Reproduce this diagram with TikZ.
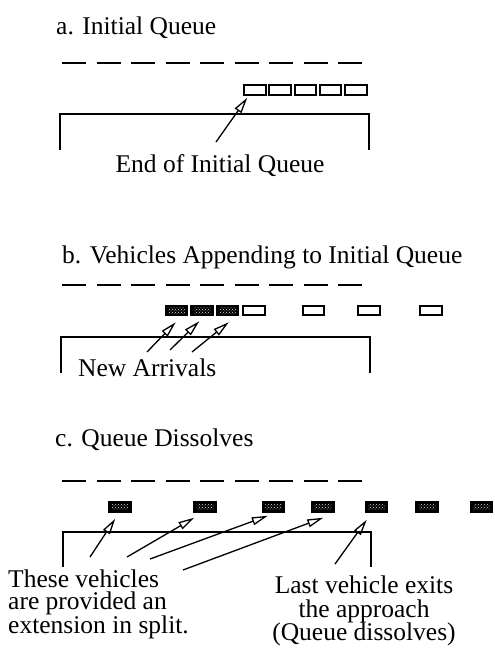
\documentclass[tikz,border=0pt]{standalone}
\usepackage{fontspec}
\setmainfont{Liberation Serif}
\usetikzlibrary{arrows.meta,patterns}
\begin{document}
\begin{tikzpicture}[x=1pt,y=-1pt,
  lbl/.style={inner sep=0pt, font=\fontsize{25.5}{30}\selectfont},
  lane/.style={line width=1.6pt, dash pattern=on 24pt off 10.5pt},
  curb/.style={line width=2.2pt},
  veh/.style={draw, line width=2pt, minimum width=21.5pt, minimum height=9.5pt, inner sep=0pt},
  vehf/.style={veh, fill=black, path picture={\fill[pattern=crosshatch dots, pattern color=white!70!gray]
      ([shift={(2.5pt,-2pt)}]path picture bounding box.north west) rectangle
      ([shift={(-2.5pt,2pt)}]path picture bounding box.south east);}},
  arr/.style={line width=1.3pt, -{Triangle[open,length=16pt,width=8pt,line width=1.3pt]}}]
\useasboundingbox (0,0) rectangle (495,653);

% ---------- a ----------
\node[lbl, anchor=base west] (ta) at (56,34) {a. Initial Queue};
\draw[lane] (62,63) -- (362,63);
\foreach \i/\x in {1/255,2/280.2,3/305.4,4/330.6,5/355.8}
  \node[veh] (a\i) at (\x,90) {};
\draw[curb] (60,150) -- (60,114) -- (369,114) -- (369,150);
\node[lbl, anchor=base] (ea) at (220,172) {End of Initial Queue};
\coordinate (sa) at (216,142);
\draw[arr] (sa) -- ([xshift=4pt,yshift=-2pt]a1.south west);

% ---------- b ----------
\node[lbl, anchor=base west] (tb) at (62,263) {b. Vehicles Appending to Initial Queue};
\draw[lane] (62,285) -- (362,285);
\foreach \i/\x in {1/176.5,2/202,3/227.5}
  \node[vehf] (b\i) at (\x,310.5) {};
\foreach \i/\x in {4/254,5/313.5,6/369,7/431}
  \node[veh] (b\i) at (\x,310.5) {};
\draw[curb] (61,373) -- (61,337) -- (370,337) -- (370,373);
\node[lbl, anchor=base west] (na) at (78,376) {New Arrivals};
\coordinate (sb1) at (147,352);
\coordinate (sb2) at (170,350);
\coordinate (sb3) at (192,352);
\draw[arr] (sb1) -- ([xshift=11pt,yshift=-6pt]b1.south west);
\draw[arr] (sb2) -- ([xshift=9pt,yshift=-5pt]b2.south west);
\draw[arr] (sb3) -- ([xshift=13pt,yshift=-6pt]b3.south west);

% ---------- c ----------
\node[lbl, anchor=base west] (tc) at (55,446) {c. Queue Dissolves};
\draw[lane] (62,481) -- (362,481);
\foreach \i/\x in {1/120,2/205,3/273.5,4/323,5/376.5,6/427,7/481.5}
  \node[vehf] (c\i) at (\x,507) {};
\draw[curb] (63,567) -- (63,532) -- (371,532) -- (371,567);
\coordinate (sc1) at (90,557);
\coordinate (sc2) at (127,557);
\coordinate (sc3) at (150,559);
\coordinate (sc4) at (183,570);
\coordinate (sc5) at (335,564);
\draw[arr] (sc1) -- ([xshift=7pt,yshift=-6pt]c1.south west);
\draw[arr] (sc2) -- ([xshift=1pt,yshift=-5pt]c2.south west);
\draw[arr] (sc3) -- ([xshift=6pt,yshift=-3pt]c3.south west);
\draw[arr] (sc4) -- ([xshift=12pt,yshift=-5pt]c4.south west);
\draw[arr] (sc5) -- ([xshift=2pt,yshift=-7pt]c5.south west);
\node[lbl, font=\fontsize{25.5}{21.5}\selectfont, align=left, anchor=north west] (lt) at (8,570)
  {These vehicles\\are provided an\\extension in split.};
\node[lbl, font=\fontsize{25.5}{23.5}\selectfont, align=center, anchor=north] (rt) at (364,576)
  {Last vehicle exits\\the approach\\(Queue dissolves)};
\end{tikzpicture}
\end{document}
